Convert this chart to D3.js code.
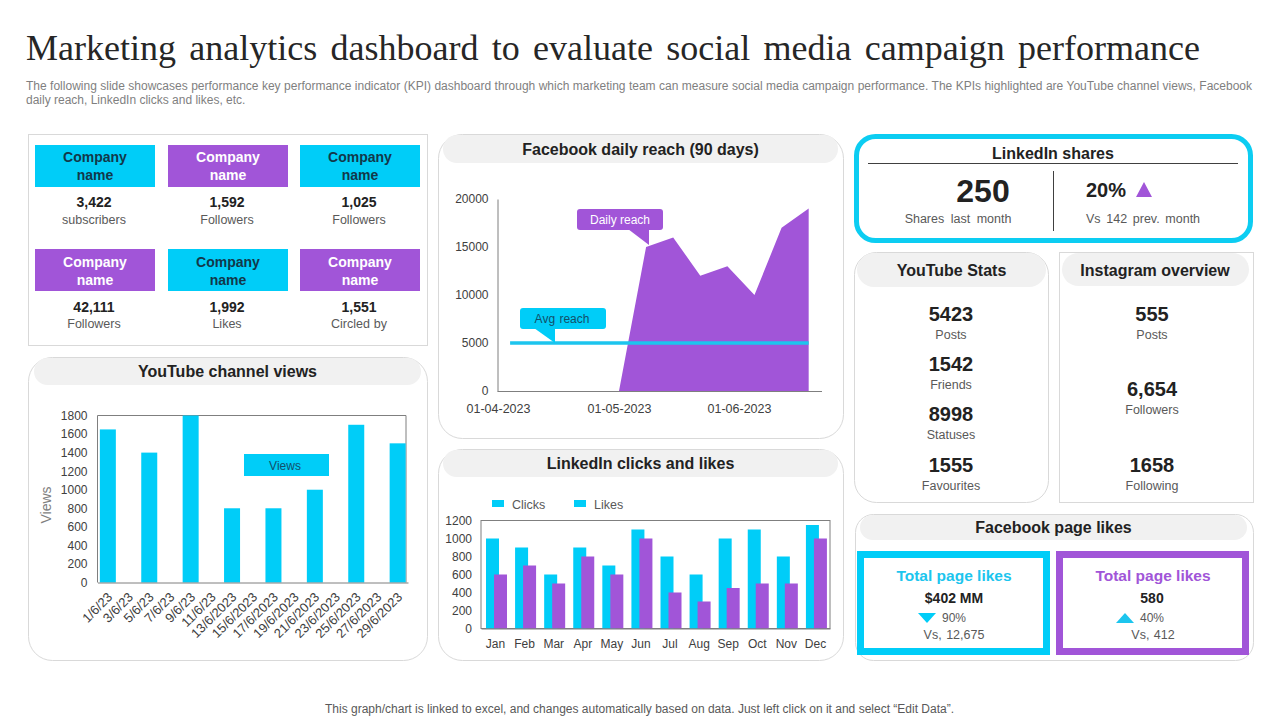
<!DOCTYPE html>
<html>
<head>
<meta charset="utf-8">
<style>
html, body { margin: 0; padding: 0; background: #fff; }
svg { display: block; }
text { font-family: "Liberation Sans", Arial, sans-serif; }
.axis text { font-size: 12px; fill: #404040; }
</style>
</head>
<body>
<script src="https://d3js.org/d3.v7.min.js"></script>
<script>

// ---- data ----
var viewDates = ["1/6/23", "3/6/23", "5/6/23", "7/6/23", "9/6/23", "11/6/23", "13/6/2023", "15/6/2023", "17/6/2023", "19/6/2023", "21/6/2023", "23/6/2023", "25/6/2023", "27/6/2023", "29/6/2023"];
var views = [1650, null, 1400, null, 1800, null, 800, null, 800, null, 1000, null, 1700, null, 1500];
var viewTicks = [0, 200, 400, 600, 800, 1000, 1200, 1400, 1600, 1800];

var reachDates = ["2023-05-01", "2023-05-08", "2023-05-15", "2023-05-22", "2023-05-29", "2023-06-05", "2023-06-12", "2023-06-19"];
var reach = [0, 15000, 16000, 12000, 13000, 10000, 17000, 19000];
var reachTicks = [0, 5000, 10000, 15000, 20000];
var reachDateTicks = ["2023-04-01", "2023-05-01", "2023-06-01"];
var avgDates = ["2023-04-04", "2023-06-19"];
var avgReach = [5000, 5000];

var months = ["Jan", "Feb", "Mar", "Apr", "May", "Jun", "Jul", "Aug", "Sep", "Oct", "Nov", "Dec"];
var clicks = [1000, 900, 600, 900, 700, 1100, 800, 600, 1000, 1100, 800, 1150];
var likes = [600, 700, 500, 800, 600, 1000, 400, 300, 450, 500, 500, 1000];
var clickTicks = [0, 200, 400, 600, 800, 1000, 1200];

var companyNumbers = ["3,422", "1,592", "1,025", "42,111", "1,992", "1,551"];
var companyLabels = ["subscribers", "Followers", "Followers", "Followers", "Likes", "Circled by"];
var companyPurple = [false, true, false, true, false, true];

var youtubeNumbers = ["5423", "1542", "8998", "1555"];
var youtubeLabels = ["Posts", "Friends", "Statuses", "Favourites"];
var instaNumbers = ["555", "6,654", "1658"];
var instaLabels = ["Posts", "Followers", "Following"];

var cyan = "#00cdf8", purple = "#a155d8", dark = "#222222", grey = "#595959", rule = "#d9d9d9", pill = "#f1f1f1";
var plain = d3.format("d");

var svg = d3.select("body").append("svg")
    .attr("width", 1280)
    .attr("height", 720);

function label(x, y, str, size, opts) {
  opts = opts || {};
  return svg.append("text")
      .attr("x", x)
      .attr("y", y)
      .attr("text-anchor", opts.anchor || "middle")
      .attr("font-size", size)
      .attr("font-weight", opts.bold ? "bold" : "normal")
      .attr("word-spacing", opts.gap || 0)
      .attr("fill", opts.fill || dark)
      .text(str);
}

function box(x, y, w, h, r, fill, stroke, sw) {
  return svg.append("rect")
      .attr("x", x).attr("y", y)
      .attr("width", w).attr("height", h)
      .attr("rx", r).attr("ry", r)
      .attr("fill", fill)
      .attr("stroke", stroke || "none")
      .attr("stroke-width", sw || 1);
}

function card(x, y, w, h, r, title, px, pw, ph, ty) {
  box(x + .5, y + .5, w, h, r, "#fff", rule);
  box(px, y + 1, pw, ph, ph / 2, pill);
  label(px + pw / 2, ty, title, 16, {bold: true});
}

// heading
svg.append("text")
    .attr("x", 26).attr("y", 60)
    .attr("font-size", 36)
    .attr("word-spacing", 4.3)
    .attr("fill", "#262626")
    .style("font-family", '"Liberation Serif", serif')
    .text("Marketing analytics dashboard to evaluate social media campaign performance");
label(26, 90, "The following slide showcases performance key performance indicator (KPI) dashboard through which marketing team can measure social media campaign performance. The KPIs highlighted are YouTube channel views, Facebook", 12, {anchor: "start", fill: "#7f7f7f", gap: 0.1});
label(26, 104, "daily reach, LinkedIn clicks and likes, etc.", 12, {anchor: "start", fill: "#7f7f7f"});
label(639.5, 713, "This graph/chart is linked to excel, and changes automatically based on data. Just left click on it and select \u201CEdit Data\u201D.", 12, {fill: "#595959"});

// company tiles
box(28.5, 134.5, 399, 211, 0, "#fff", rule);
var tileX = [35, 168, 300], tileY = [145, 249];
companyNumbers.forEach(function(num, i) {
  var row = Math.floor(i / 3);
  var x = tileX[i % 3], y = tileY[row];
  var on = companyPurple[i];
  box(x, y, 120, 42, 0, on ? purple : cyan);
  label(x + 60, y + 17 + row, "Company", 14, {bold: true, fill: on ? "#fff" : "#12384a"});
  label(x + 60, y + 35 + row, "name", 14, {bold: true, fill: on ? "#fff" : "#12384a"});
  label(x + 59, y + 62 + row, num, 14, {bold: true});
  label(x + 59, y + 79, companyLabels[i], 12.5, {fill: grey, gap: 0.5});
});

// YouTube channel views
card(28, 357, 399, 303, 24, "YouTube channel views", 34, 387, 27, 377);
var yvX = d3.scaleBand().domain(viewDates).range([97.5, 408]);
var yvY = d3.scaleLinear().domain([0, 1800]).range([582.5, 415.5]);
var yvG = svg.append("g");
yvG.append("path")
    .attr("d", "M97.5," + yvY(0) + "V" + yvY(1800) + "H406V" + yvY(0))
    .attr("fill", "none").attr("stroke", "#7f7f7f");
yvG.selectAll(".bar")
    .data(views.map(function(v, i) { return {d: viewDates[i], v: v}; }).filter(function(d) { return d.v !== null; }))
    .enter().append("rect")
    .attr("class", "bar")
    .attr("x", function(d) { return yvX(d.d) + yvX.bandwidth() / 2 - 8; })
    .attr("y", function(d) { return yvY(d.v); })
    .attr("width", 16)
    .attr("height", function(d) { return yvY(0) - yvY(d.v); })
    .attr("fill", cyan);
svg.append("g").attr("class", "axis")
    .attr("transform", "translate(97.5,0)")
    .call(d3.axisLeft(yvY).tickValues(viewTicks).tickFormat(plain).tickSize(0).tickPadding(10))
    .call(function(g) { g.select(".domain").remove(); });
var yvAxis = svg.append("g").attr("class", "axis")
    .attr("transform", "translate(0,582.5)")
    .call(d3.axisBottom(yvX).tickSize(0));
yvAxis.select(".domain").attr("stroke", "#7f7f7f");
yvAxis.selectAll("text")
    .style("font-size", "13px")
    .attr("text-anchor", "end")
    .attr("transform", "translate(0,10) rotate(-45)")
    .attr("dy", ".35em");
svg.append("text")
    .attr("transform", "translate(51,505) rotate(-90)")
    .attr("text-anchor", "middle")
    .attr("font-size", 14)
    .attr("fill", "#7f7f7f")
    .text("Views");
box(244, 454, 85, 22, 0, cyan);
label(285, 470, "Views", 12, {fill: "#12506a"});

// Facebook daily reach
card(438, 134, 405, 304, 24, "Facebook daily reach (90 days)", 443, 395, 28, 155);
var parseDay = d3.timeParse("%Y-%m-%d");
var frX = d3.scaleTime().domain(reachDateTicks.map(parseDay)).range([498, 619, 739]);
var frY = d3.scaleLinear().domain([0, 20000]).range([391, 199]);
svg.append("path")
    .datum(reach.map(function(v, i) { return {d: parseDay(reachDates[i]), v: v}; }))
    .attr("fill", purple)
    .attr("d", d3.area()
        .x(function(d) { return frX(d.d); })
        .y0(frY(0))
        .y1(function(d) { return frY(d.v); }));
svg.append("path")
    .datum(avgReach.map(function(v, i) { return {d: parseDay(avgDates[i]), v: v}; }))
    .attr("fill", "none")
    .attr("stroke", "#1cc5ee")
    .attr("stroke-width", 3.5)
    .attr("d", d3.line()
        .x(function(d) { return frX(d.d); })
        .y(function(d) { return frY(d.v); }));
var frLeft = svg.append("g").attr("class", "axis")
    .attr("transform", "translate(497.5,0)")
    .call(d3.axisLeft(frY).tickValues(reachTicks).tickFormat(plain).tickSize(0).tickPadding(9));
frLeft.select(".domain").attr("stroke", "#7f7f7f");
var frBottom = svg.append("g").attr("class", "axis")
    .attr("transform", "translate(0,391.5)")
    .call(d3.axisBottom(frX).tickValues(reachDateTicks.map(parseDay)).tickFormat(d3.timeFormat("%d-%m-%Y")).tickSize(0).tickPadding(13));
frBottom.select(".domain").attr("d", "M497.5,0H822").attr("stroke", "#7f7f7f");
frBottom.selectAll("text").style("font-size", "12.5px");

// callouts on the reach chart
box(577, 209, 86, 21, 3, purple);
svg.append("path").attr("d", "M628,229L649,245L649,229Z").attr("fill", purple);
label(620, 224, "Daily reach", 12, {fill: "#fff"});
box(520, 308, 86, 21, 3, cyan);
svg.append("path").attr("d", "M534,328L555,343L555,328Z").attr("fill", cyan);
label(562, 323, "Avg reach", 12, {fill: "#12506a", gap: 1});

// LinkedIn clicks and likes
card(438, 449, 405, 211, 24, "LinkedIn clicks and likes", 443, 395, 27, 469);
var lcX = d3.scaleBand().domain(months).range([481, 830]);
var lcY = d3.scaleLinear().domain([0, 1200]).range([628.5, 520.5]);
svg.append("rect")
    .attr("x", 481).attr("y", lcY(1200))
    .attr("width", 349).attr("height", lcY(0) - lcY(1200))
    .attr("fill", "none").attr("stroke", "#7f7f7f");
svg.selectAll(".click")
    .data(clicks)
    .enter().append("rect")
    .attr("class", "click")
    .attr("x", function(d, i) { return lcX(months[i]) + 5; })
    .attr("y", function(d) { return lcY(d); })
    .attr("width", 13)
    .attr("height", function(d) { return lcY(0) - lcY(d); })
    .attr("fill", cyan);
svg.selectAll(".like")
    .data(likes)
    .enter().append("rect")
    .attr("class", "like")
    .attr("x", function(d, i) { return lcX(months[i]) + 13; })
    .attr("y", function(d) { return lcY(d); })
    .attr("width", 13)
    .attr("height", function(d) { return lcY(0) - lcY(d); })
    .attr("fill", purple);
svg.append("g").attr("class", "axis")
    .attr("transform", "translate(481,0)")
    .call(d3.axisLeft(lcY).tickValues(clickTicks).tickFormat(plain).tickSize(0).tickPadding(9))
    .call(function(g) { g.select(".domain").remove(); });
svg.append("g").attr("class", "axis")
    .attr("transform", "translate(0,628.5)")
    .call(d3.axisBottom(lcX).tickSize(0).tickPadding(11))
    .call(function(g) { g.select(".domain").attr("stroke", "#7f7f7f"); });
box(492, 500, 12, 7, 0, cyan);
label(512, 509, "Clicks", 12.5, {anchor: "start", fill: grey});
box(574, 500, 12, 7, 0, cyan);
label(594, 509, "Likes", 12.5, {anchor: "start", fill: grey});

// LinkedIn shares
box(856.5, 136.5, 394, 104, 19, "#fff", "#0ccdf2", 5);
label(1053, 159, "LinkedIn shares", 16, {bold: true});
svg.append("line").attr("x1", 868).attr("x2", 1238).attr("y1", 163.5).attr("y2", 163.5).attr("stroke", "#404040");
svg.append("line").attr("x1", 1053.5).attr("x2", 1053.5).attr("y1", 171).attr("y2", 231).attr("stroke", "#404040");
label(983, 202, "250", 32, {bold: true});
label(958, 223, "Shares last month", 12.5, {fill: grey, gap: 3});
label(1086, 197, "20%", 20, {anchor: "start", bold: true});
svg.append("path").attr("d", "M1144,182L1152,197L1136,197Z").attr("fill", purple);
label(1086, 223, "Vs 142 prev. month", 12.5, {anchor: "start", fill: grey, gap: 2.2});

// YouTube stats and Instagram overview
card(854, 252, 194, 250, 22, "YouTube Stats", 857, 189, 34, 276);
var youtubeY = [321, 371, 421, 472];
youtubeNumbers.forEach(function(num, i) {
  label(951, youtubeY[i], num, 20, {bold: true});
  label(951, youtubeY[i] + 18, youtubeLabels[i], 12.5, {fill: grey});
});
box(1059.5, 252.5, 194, 250, 0, "#fff", rule);
box(1062, 253, 187, 33, 16.5, pill);
label(1155, 276, "Instagram overview", 16, {bold: true});
var instaY = [321, 396, 472];
instaNumbers.forEach(function(num, i) {
  label(1152, instaY[i], num, 20, {bold: true});
  label(1152, instaY[i] + 18, instaLabels[i], 12.5, {fill: grey});
});

// Facebook page likes
card(855, 514, 398, 146, 18, "Facebook page likes", 860, 387, 25, 533);
box(860.5, 554.5, 186, 97, 0, "#fff", cyan, 7);
box(1059.5, 554.5, 186, 97, 0, "#fff", purple, 7);
label(954, 581, "Total page likes", 15.5, {bold: true, fill: "#1cc5ee"});
label(954, 603, "$402 MM", 14, {bold: true});
svg.append("path").attr("d", "M918,613L936,613L927,623Z").attr("fill", cyan);
label(942, 622, "90%", 12, {anchor: "start", fill: grey});
label(954, 639, "Vs, 12,675", 12.5, {fill: grey, gap: 1});
label(1153, 581, "Total page likes", 15.5, {bold: true, fill: purple});
label(1152, 603, "580", 14, {bold: true});
svg.append("path").attr("d", "M1125,613L1134,623L1116,623Z").attr("fill", "#1cc5ee");
label(1140, 622, "40%", 12, {anchor: "start", fill: grey});
label(1153, 639, "Vs, 412", 12.5, {fill: grey, gap: 1});

</script>
</body>
</html>
